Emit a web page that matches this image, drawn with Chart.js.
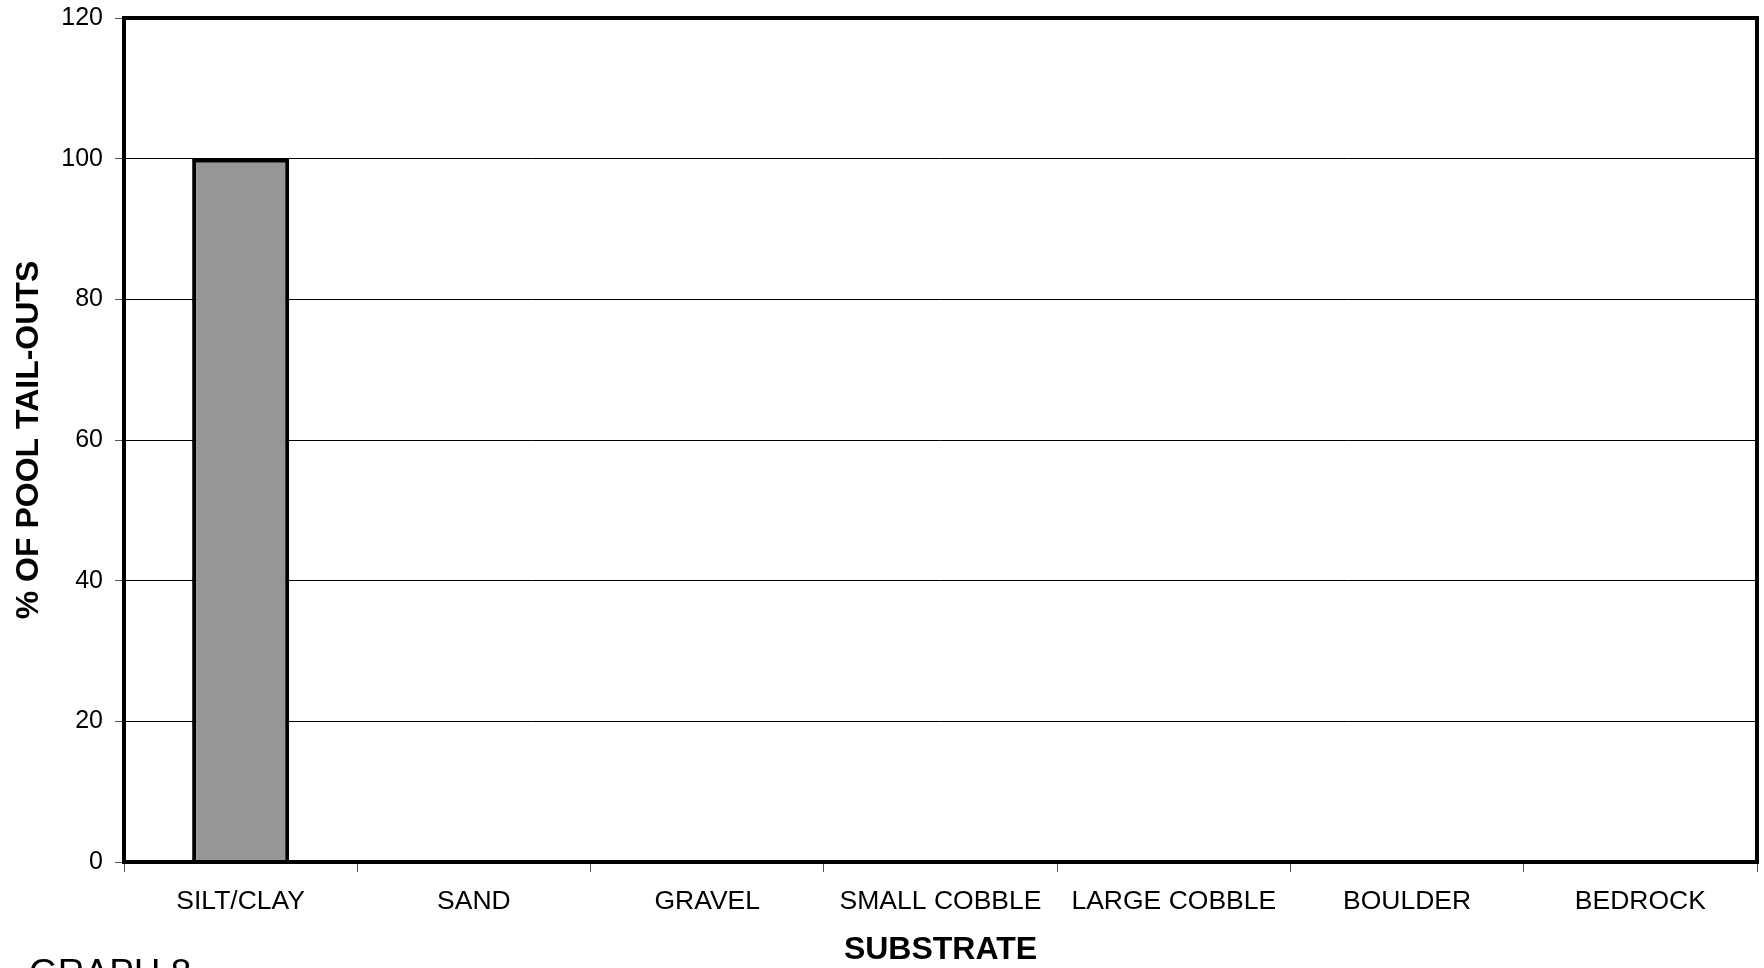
<!DOCTYPE html>
<html>
<head>
<meta charset="utf-8">
<script src="https://cdn.jsdelivr.net/npm/chart.js@4/dist/chart.umd.min.js"></script>
<style>
  html, body { margin: 0; padding: 0; background: #fff; }
  #wrap { width: 1764px; height: 968px; position: relative; }
</style>
</head>
<body>
<div id="wrap"><canvas id="c" width="1764" height="968"></canvas></div>
<script>
// Substrate categories and share of pool tail-outs (%)
const categories = ['SILT/CLAY', 'SAND', 'GRAVEL', 'SMALL COBBLE', 'LARGE COBBLE', 'BOULDER', 'BEDROCK'];
const percentValues = [100, 0, 0, 0, 0, 0, 0];
const yTicks = [0, 20, 40, 60, 80, 100, 120];
const xTitle = 'SUBSTRATE';
const yTitle = '% OF POOL TAIL-OUTS';
const footnote = 'GRAPH 8';

const FONT = "'Liberation Sans', Arial, Helvetica, sans-serif";

// Heavy frame around the plot area plus the caption at the lower left
const framePlugin = {
  id: 'frame',
  afterDatasetsDraw(chart) {
    const { ctx, chartArea: a } = chart;
    ctx.save();
    ctx.strokeStyle = '#000';
    ctx.lineWidth = 4;
    ctx.strokeRect(a.left, a.top, a.right - a.left, a.bottom - a.top);
    ctx.restore();
  },
  afterDraw(chart) {
    const { ctx } = chart;
    ctx.save();
    ctx.fillStyle = '#000';
    ctx.font = '37px ' + FONT;
    ctx.textAlign = 'left';
    ctx.textBaseline = 'alphabetic';
    ctx.fillText(footnote, 29, 985);
    ctx.restore();
  }
};

new Chart(document.getElementById('c'), {
  type: 'bar',
  data: {
    labels: categories,
    datasets: [{
      data: percentValues,
      backgroundColor: '#969696',
      borderColor: '#000',
      borderWidth: 4,
      borderSkipped: 'bottom',
      categoryPercentage: 1,
      barPercentage: 0.416
    }]
  },
  options: {
    responsive: false,
    animation: false,
    devicePixelRatio: 1,
    layout: { padding: { left: 0, top: 18, right: 7, bottom: 0 } },
    plugins: {
      legend: { display: false },
      tooltip: { enabled: false }
    },
    scales: {
      x: {
        offset: true,
        border: { display: false },
        grid: {
          offset: true,
          drawOnChartArea: false,
          drawTicks: true,
          tickLength: 10,
          tickColor: '#555',
          tickWidth: 1
        },
        ticks: {
          color: '#000',
          font: { family: FONT, size: 26.5 },
          padding: 14,
          autoSkip: false,
          maxRotation: 0,
          minRotation: 0
        },
        title: {
          display: true,
          text: xTitle,
          color: '#000',
          font: { family: FONT, size: 32, weight: 'bold', lineHeight: 1.1 },
          padding: { top: 0, bottom: 0 }
        },
        afterFit(scale) { scale.height = 106; }
      },
      y: {
        min: 0,
        max: 120,
        border: { display: false },
        afterBuildTicks(scale) { scale.ticks = yTicks.map(v => ({ value: v })); },
        grid: {
          color: '#000',
          lineWidth: 1,
          drawTicks: true,
          tickLength: 9,
          tickColor: '#555',
          tickWidth: 1
        },
        ticks: {
          color: '#000',
          font: { family: FONT, size: 25 },
          padding: 12
        },
        title: {
          display: true,
          text: yTitle,
          color: '#000',
          font: { family: FONT, size: 32, weight: 'bold' },
          padding: { top: 10, bottom: 0 }
        },
        afterFit(scale) {
          scale.width = 124;
          scale.paddingTop = 0;
          scale.paddingBottom = 0;
        }
      }
    }
  },
  plugins: [framePlugin]
});
</script>
</body>
</html>
